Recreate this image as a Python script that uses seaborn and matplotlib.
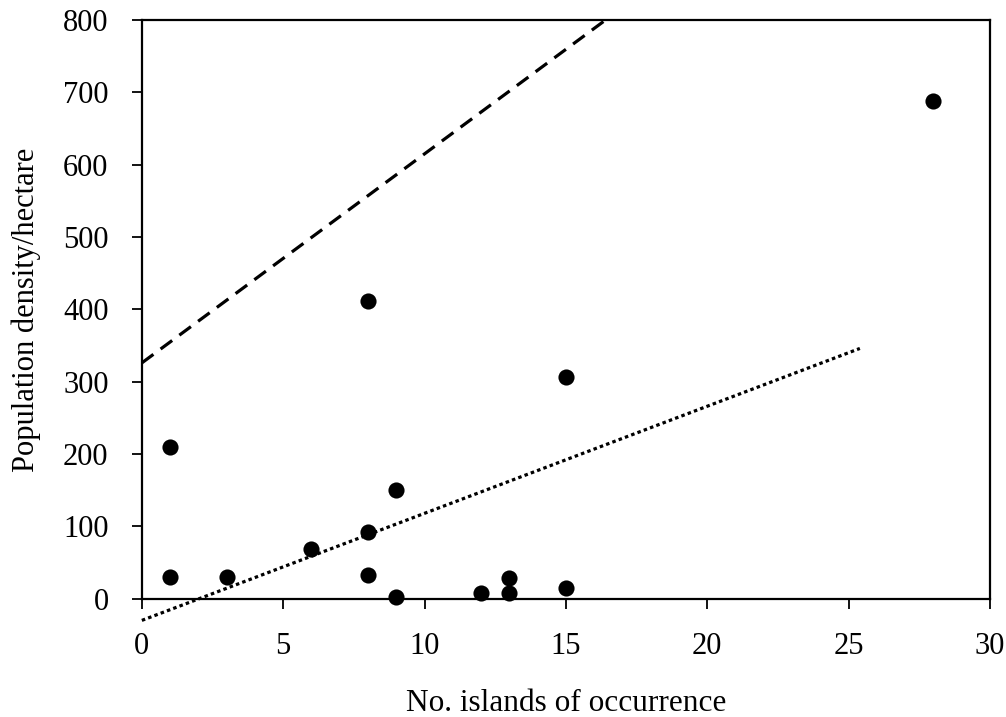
import matplotlib
matplotlib.use("Agg")
import matplotlib.pyplot as plt
import seaborn as sns
import pandas as pd

# Data
islands = [1, 1, 3, 6, 8, 8, 8, 9, 9, 12, 13, 13, 15, 15, 28]
density = [30, 210, 30, 69, 412, 92, 33, 150, 3, 8, 29, 8, 306, 15, 688]

# Trend lines (endpoints)
dashed_x = [0, 16.4]
dashed_y = [326, 800]
dotted_x = [0, 25.4]
dotted_y = [-30, 346]

x_ticks = [0, 5, 10, 15, 20, 25, 30]
y_ticks = [0, 100, 200, 300, 400, 500, 600, 700, 800]

sns.set_theme(style="white")
plt.rcParams['font.family'] = ['Liberation Serif', 'DejaVu Serif']

df = pd.DataFrame({"islands": islands, "density": density})

fig = plt.figure(figsize=(10.06, 7.17), dpi=100)
ax = fig.add_axes([0.141, 0.165, 0.843, 0.807])

sns.lineplot(x=dashed_x, y=dashed_y, ax=ax, color="black", lw=2.3,
             linestyle=(0, (4.5, 2.8)), clip_on=False)
sns.lineplot(x=dotted_x, y=dotted_y, ax=ax, color="black", lw=2.3,
             linestyle=(0, (1.1, 1.0)), clip_on=False)
sns.scatterplot(data=df, x="islands", y="density", ax=ax, color="black",
                s=135, edgecolor="black", linewidth=0, zorder=5, clip_on=False)

ax.set_xlim(0, 30)
ax.set_ylim(0, 800)
ax.set_xticks(x_ticks)
ax.set_yticks(y_ticks)
ax.set_xticklabels([str(t) for t in x_ticks])
ax.set_yticklabels([str(t) for t in y_ticks])

for s in ax.spines.values():
    s.set_color("black")
    s.set_linewidth(1.6)
    s.set_visible(True)

ax.tick_params(axis="both", which="major", direction="out", length=7,
               width=1.3, color="black", labelsize=22, labelcolor="black",
               bottom=True, left=True)
ax.tick_params(axis="x", pad=17)
ax.tick_params(axis="y", pad=17)

ax.set_xlabel("No. islands of occurrence", fontsize=22.5, color="black", labelpad=20)
ax.set_ylabel("Population density/hectare", fontsize=22, color="black", labelpad=16)

fig.savefig("out.png", dpi=100, facecolor="white")
